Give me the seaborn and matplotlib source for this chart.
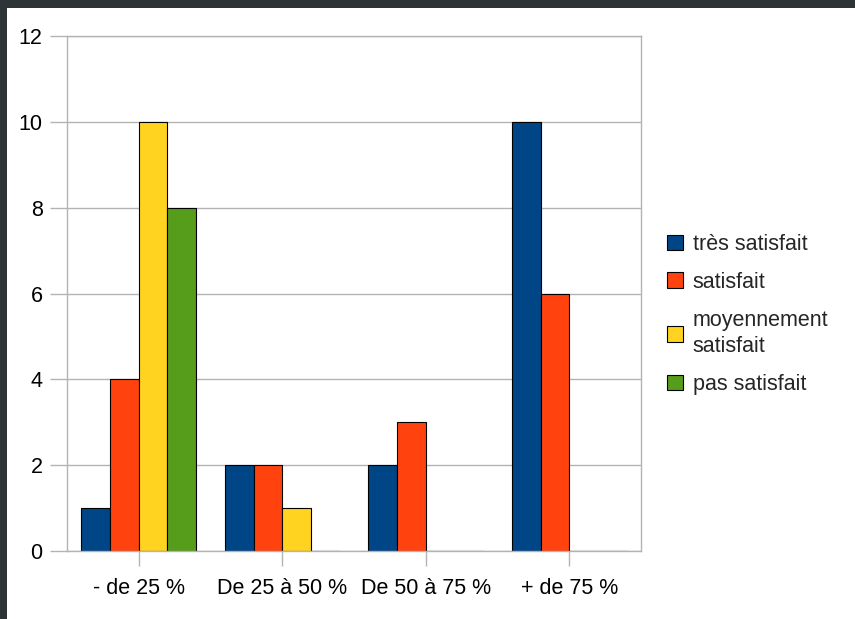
import matplotlib
matplotlib.use("Agg")
import matplotlib.pyplot as plt
import matplotlib.patches as mpatches
import seaborn as sns
import pandas as pd

categories = ["- de 25 %", "De 25 à 50 %", "De 50 à 75 %", "+ de 75 %"]
series_names = ["très satisfait", "satisfait", "moyennement\nsatisfait", "pas satisfait"]
tres_satisfait = [1, 2, 2, 10]
satisfait = [4, 2, 3, 6]
moyennement = [10, 1, 0, 0]
pas_satisfait = [8, 0, 0, 0]
colors = ["#004586", "#ff420e", "#ffd320", "#579d1c"]

rows = []
for name, vals in zip(series_names, [tres_satisfait, satisfait, moyennement, pas_satisfait]):
    for c, v in zip(categories, vals):
        rows.append({"cat": c, "serie": name, "val": v})
df = pd.DataFrame(rows)

sns.set_theme(style="white")
plt.rcParams['font.family'] = ['Liberation Sans', 'DejaVu Sans']

FS = 15.5
fig = plt.figure(figsize=(8.55, 6.19), dpi=100)
W, H = 855, 619
ax = fig.add_axes([67 / W, 1 - 551 / H, (641 - 67) / W, (551 - 36) / H])

sns.barplot(data=df, x="cat", y="val", hue="serie", palette=colors, order=categories,
            hue_order=series_names, width=0.8, edgecolor="black", linewidth=0.8,
            saturation=1, ax=ax, legend=False)

ax.set_ylim(0, 12)
ax.set_xlim(-0.5, 3.5)
ax.set_yticks([0, 2, 4, 6, 8, 10, 12])
ax.yaxis.grid(True, color="#b3b3b3", linewidth=1)
ax.set_axisbelow(True)
for s in ax.spines.values():
    s.set_color("#b3b3b3")
    s.set_linewidth(1)
ax.tick_params(axis="y", length=12, width=1, color="#b3b3b3", pad=5.5, labelsize=FS, labelcolor="black", left=True)
ax.tick_params(axis="x", length=11, width=1, color="#b3b3b3", pad=8.5, labelsize=FS, labelcolor="black", bottom=True)
ax.set_xlabel("")
ax.set_ylabel("")

handles = [mpatches.Patch(facecolor=c, edgecolor="black", linewidth=0.8, label=n)
           for c, n in zip(colors, series_names)]
leg = fig.legend(handles=handles, loc="upper left", bbox_to_anchor=(667 / W, 1 - 234 / H),
                 frameon=False, fontsize=FS, handlelength=0.75, handleheight=0.75,
                 handletextpad=0.45, labelspacing=0.78, borderaxespad=0, borderpad=0)
for t in leg.get_texts():
    t.set_linespacing(1.35)

# dark window border
fig.patches.append(mpatches.Rectangle((0, 1 - 8 / H), 1, 8 / H, transform=fig.transFigure,
                                      facecolor="#2e3436", edgecolor="none", zorder=10))
fig.patches.append(mpatches.Rectangle((0, 0), 7 / W, 1, transform=fig.transFigure,
                                      facecolor="#2e3436", edgecolor="none", zorder=10))

fig.savefig("out.png", dpi=100, facecolor="white")
